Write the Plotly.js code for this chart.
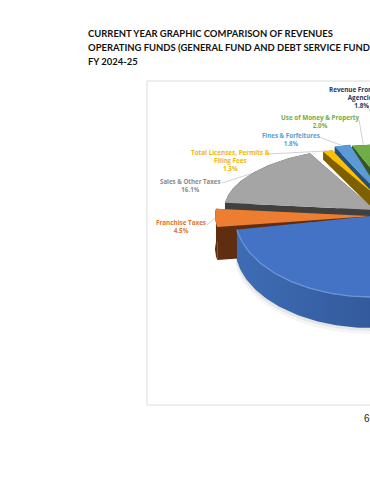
<!DOCTYPE html>
<html><head><meta charset="utf-8">
<script src="https://cdn.plot.ly/plotly-3.0.1.min.js"></script>
<style>html,body{margin:0;padding:0;background:#fff;overflow:hidden}#c{width:370px;height:480px}</style>
</head><body><div id="c"></div>
<script>
// Data (clockwise from the large front slice's end)
const categories = ["Franchise Taxes","Sales & Other Taxes","Total Licenses, Permits &<br>Filing Fees","Fines & Forfeitures","Use of Money & Property","Revenue From Other<br>Agencies","Largest slice (label off page)"];
const shares = [4.5,16.1,1.3,1.8,2.0,1.8,72.5];
const shareLabels = ["4.5%","16.1%","1.3%","1.8%","2.0%","1.8%",""];

// Styles
const topColors  = ["#ed7d31","#a5a5a5","#ffc000","#5b9bd5","#70ad47","#264478","#4472c4"];
const wallColors = ["#5f2e10","#404040","#7f6000","#255078","#375623","#16294a","#2f5597"];
const labelColors= ["#e2762c","#8a8a8a","#f2b705","#5b9bd5","#70ad47","#203864"];
const labelSize  = [6.3,6.15,6.3,6.15,6.3,6.3];
// Projected geometry of each slice: apex x, apex y, radius x, radius y, wall depth at rim and at apex
const apexX = [372,375,375,385,398,402,372];
const apexY = [216,210,195,200,201,201,216];
const radX  = [157,151,120,141,185,185,137];
const radY  = [ 65, 63, 48, 57, 57, 57, 81];
const depth = [ 33, 30,  8,  8,  8,  8, 31];
const apexDepth = [33,30,16,16,16,16,31];
const labelAt = [[181,226],[190,185],[230,160],[291,139],[320,121],[361,97]];
const leaderFrom = [[207,225],[222,183],[268,154],[319,137],[359,120],[367,106]];
const startAngle = 189.7;

const traces = [];
const rad = d => d*Math.PI/180;
function arcPts(i,a0,a1,dy){
  const xs=[],ys=[],n=Math.max(4,Math.ceil(Math.abs(a1-a0)/1.5));
  for(let k=0;k<=n;k++){const a=rad(a0+(a1-a0)*k/n);
    xs.push(apexX[i]+radX[i]*Math.cos(a));ys.push(apexY[i]-radY[i]*Math.sin(a)+dy);}
  return [xs,ys];
}
function poly(xs,ys,color,extra){
  traces.push(Object.assign({type:'scatter',mode:'lines',x:xs,y:ys,fill:'toself',fillcolor:color,
    line:{width:0,color:color},hoverinfo:'skip',showlegend:false},extra||{}));
}
function slice(i,a0,a1){
  const d=depth[i],ad=apexDepth[i],ax=apexX[i],ay=apexY[i];
  const [tx,ty]=arcPts(i,a0,a1,0),[bx,by]=arcPts(i,a0,a1,d);
  const big=i===6;
  poly([ax,tx[0],bx[0],ax],[ay,ty[0],by[0],ay+ad],wallColors[i]);
  const L=tx.length-1;
  poly([ax,tx[L],bx[L],ax],[ay,ty[L],by[L],ay+ad],wallColors[i]);
  const wx=tx.concat(bx.slice().reverse()),wy=ty.concat(by.slice().reverse());
  if(big){
    [[6,3,.04],[3,1.5,.06]].forEach(s=>{
      poly(bx.map(v=>v-s[1]*0.4).concat(tx.slice().reverse()),by.map(v=>v+s[0]).concat(ty.slice().reverse()),'rgba(0,0,0,'+s[2]+')');
    });
    poly(wx,wy,wallColors[i],{fillgradient:{type:'horizontal',colorscale:[[0,'#3e6cb4'],[0.5,'#335a9c'],[1,'#294a80']]}});
  } else poly(wx,wy,wallColors[i]);
  poly([ax].concat(tx,[ax]),[ay].concat(ty,[ay]),topColors[i]);
  if(big) traces.push({type:'scatter',mode:'lines',x:tx,y:ty,line:{color:'#6d95d6',width:1.3},hoverinfo:'skip',showlegend:false});
}

// Angles from the shares (clockwise on screen from startAngle)
let a=startAngle;
const spans=shares.map(v=>v/100*360);
const ranges=spans.map(s=>{const r=[a,a-s];a-=s;return r;});
// Back to front
[5,4,3,2,1,0,6].forEach(i=>slice(i,ranges[i][0],ranges[i][1]));

// Leaders and labels
const annotations=[];
for(let i=0;i<6;i++){
  const mid=(ranges[i][0]+ranges[i][1])/2;
  const ex=apexX[i]+radX[i]*Math.cos(rad(mid)),ey=apexY[i]-radY[i]*Math.sin(rad(mid));
  traces.push({type:'scatter',mode:'lines',x:[leaderFrom[i][0],ex],y:[leaderFrom[i][1],ey],
    line:{color:'#bfbfbf',width:0.7},hoverinfo:'skip',showlegend:false});
  annotations.push({x:labelAt[i][0],y:labelAt[i][1],xref:'x',yref:'y',text:'<b>'+categories[i]+'<br>'+shareLabels[i]+'</b>',showarrow:false,
    xanchor:'center',yanchor:'middle',align:'center',
    font:{family:'Open Sans, sans-serif',size:labelSize[i],color:labelColors[i]}});
}
annotations.push({x:361.5,y:418,xref:'x',yref:'y',text:'6',showarrow:false,xanchor:'left',yanchor:'middle',
  font:{family:'Liberation Sans, sans-serif',size:10,color:'#222'}});

const titleLines=['CURRENT YEAR GRAPHIC COMPARISON OF REVENUES','OPERATING FUNDS (GENERAL FUND AND DEBT SERVICE FUND','FY 2024-25'];
const layout={width:370,height:480,margin:{l:0,r:0,t:0,b:0},paper_bgcolor:'#fff',plot_bgcolor:'rgba(0,0,0,0)',showlegend:false,
  title:{text:titleLines.map(t=>'<b><span style="font-size:9.45px">'+t+'</span></b>').join('<br>'),
    x:88/370,xanchor:'left',xref:'paper',y:1-37/480,yanchor:'top',yref:'paper',
    font:{family:'Lato, sans-serif',size:10.77,color:'#111'}},
  xaxis:{range:[0,370],visible:false,fixedrange:true},
  yaxis:{range:[480,0],visible:false,fixedrange:true},
  shapes:[{type:'rect',xref:'x',yref:'y',x0:147,x1:400,y0:81,y1:405,line:{color:'#dcdcdc',width:1},layer:'below'}],
  annotations:annotations};
Plotly.newPlot('c',traces,layout,{displayModeBar:false,staticPlot:true});
</script></body></html>
